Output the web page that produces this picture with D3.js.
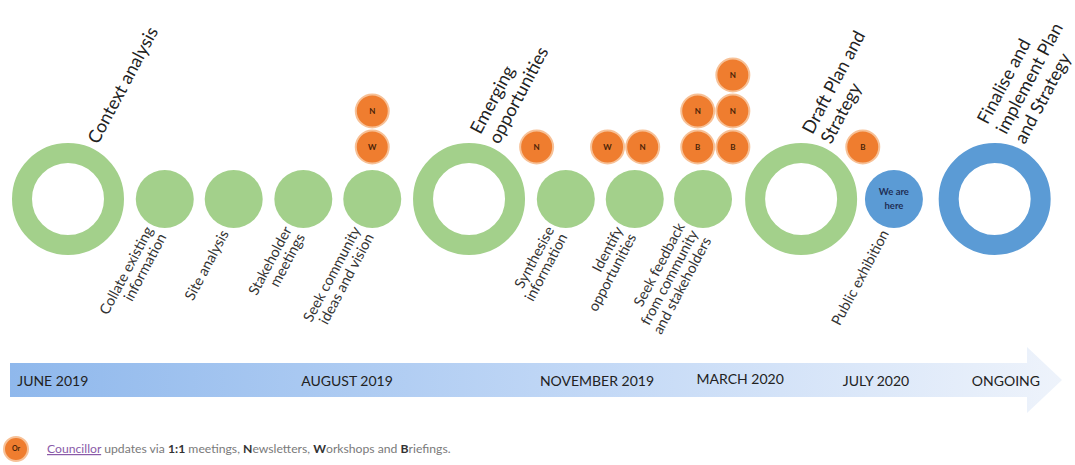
<!DOCTYPE html>
<html>
<head>
<meta charset="utf-8">
<script src="https://cdn.jsdelivr.net/npm/d3@7/dist/d3.min.js"></script>
<style>
  body { margin: 0; background: #fff; }
  svg { display: block; font-family: Lato, "Noto Sans", sans-serif; }
</style>
</head>
<body>
<svg></svg>
<script>
// big stage rings
let stageNames = [['Context analysis'], ['Emerging', 'opportunities'], ['Draft Plan and', 'Strategy'], ['Finalise and', 'implement Plan', 'and Strategy']]
let stageSlots = [0, 6.05, 11.06, 13.98]
let stageKinds = ['done', 'done', 'done', 'future']

// small task circles
let taskNames = [['Collate existing', 'information'], ['Site analysis'], ['Stakeholder', 'meetings'], ['Seek community', 'ideas and vision'],
                 ['Synthesise', 'information'], ['Identify', 'opportunities'], ['Seek feedback', 'from community', 'and stakeholders'], ['Public exhibition']]
let taskSlots = [1.46, 2.5, 3.55, 4.59, 7.51, 8.55, 9.58, 12.46]
let taskKinds = ['done', 'done', 'done', 'done', 'done', 'done', 'done', 'now']

// councillor updates (N, W, B), stacked in rows
let updateLetters = ['N', 'W', 'N', 'W', 'N', 'N', 'B', 'N', 'N', 'B', 'B']
let updateSlots = [4.59, 4.59, 7.07, 8.14, 8.67, 9.5, 9.5, 10.03, 10.03, 10.03, 11.99]
let updateRows = [1, 0, 0, 0, 0, 1, 0, 2, 1, 0, 0]

// dates on the arrow
let dateLabels = ['JUNE 2019', 'AUGUST 2019', 'NOVEMBER 2019', 'MARCH 2020', 'JULY 2020', 'ONGOING']
let dateSlots = [-0.23, 4.21, 7.98, 10.14, 12.19, 14.15]

let width = 1075
let height = 465
let rowY = 199
let angle = -62

let green = '#a3d08b'
let blue = '#5b9bd5'
let orange = '#ef7d2f'

let svg = d3.select('svg').attr('width', width).attr('height', height)

let xScale = d3.scaleLinear().domain([0, 14]).range([68, 996])
let yScale = d3.scaleLinear().domain([0, 2]).range([147, 75])

let colorOf = (k) => k == 'done' ? green : blue

// ---- arrow band
let defs = svg.append('defs')
let grad = defs.append('linearGradient').attr('id', 'band').attr('x1', '0%').attr('x2', '100%')
grad.append('stop').attr('offset', '0%').attr('stop-color', '#8fb8ec')
grad.append('stop').attr('offset', '55%').attr('stop-color', '#c2d8f6')
grad.append('stop').attr('offset', '100%').attr('stop-color', '#eef3fb')

let bandTop = 363, bandBot = 397, headX = 1027, tipX = 1062
svg.append('path')
   .attr('d', 'M10,' + bandTop + 'H' + headX + 'V347L' + tipX + ',380L' + headX + ',413V' + bandBot + 'H10Z')
   .attr('fill', 'url(#band)')

svg.selectAll('.date')
   .data(dateLabels)
   .enter()
   .append('text')
   .attr('class', 'date')
   .attr('x', (d, i) => xScale(dateSlots[i]))
   .attr('y', (d, i) => d == 'MARCH 2020' ? 384 : 386)
   .attr('text-anchor', 'middle')
   .attr('font-size', 14)
   .attr('fill', '#222')
   .text(d => d)

// ---- stage rings
svg.selectAll('.stage')
   .data(stageNames)
   .enter()
   .append('circle')
   .attr('class', 'stage')
   .attr('cx', (d, i) => xScale(stageSlots[i]))
   .attr('cy', rowY)
   .attr('r', 46)
   .attr('fill', 'none')
   .attr('stroke', (d, i) => colorOf(stageKinds[i]))
   .attr('stroke-width', 20)

let stageLbl = svg.selectAll('.stage-label')
   .data(stageNames)
   .enter()
   .append('text')
   .attr('class', 'stage-label')
   .attr('transform', (d, i) => 'translate(' + (xScale(stageSlots[i]) + 30) + ',' + (rowY - 54) + ') rotate(' + angle + ')')
   .attr('font-size', 18)
   .attr('fill', '#222')
stageLbl.selectAll('tspan')
   .data(d => d.map((t, j) => ({ t: t, off: j - (d.length - 1) })))
   .enter()
   .append('tspan')
   .attr('x', 0)
   .attr('y', d => d.off * 21)
   .text(d => d.t)

// ---- task circles
svg.selectAll('.task')
   .data(taskNames)
   .enter()
   .append('circle')
   .attr('class', 'task')
   .attr('cx', (d, i) => xScale(taskSlots[i]))
   .attr('cy', rowY)
   .attr('r', 29)
   .attr('fill', (d, i) => colorOf(taskKinds[i]))

let taskLbl = svg.selectAll('.task-label')
   .data(taskNames)
   .enter()
   .append('text')
   .attr('class', 'task-label')
   .attr('transform', (d, i) => 'translate(' + (xScale(taskSlots[i]) - 9) + ',' + (rowY + 32) + ') rotate(' + angle + ')')
   .attr('text-anchor', 'end')
   .attr('font-size', 14.5)
   .attr('fill', '#333')
taskLbl.selectAll('tspan')
   .data(d => d.map((t, j) => ({ t: t, off: j - (d.length - 1) / 2 })))
   .enter()
   .append('tspan')
   .attr('x', 0)
   .attr('y', d => d.off * 15 + 5)
   .text(d => d.t)

// "We are here" on the current task
let nowIdx = taskKinds.indexOf('now')
svg.append('text')
   .attr('x', xScale(taskSlots[nowIdx]))
   .attr('y', rowY)
   .attr('text-anchor', 'middle')
   .attr('font-size', 9.5)
   .attr('font-weight', 'bold')
   .attr('fill', '#1f2f55')
   .selectAll('tspan')
   .data(['We are', 'here'])
   .enter()
   .append('tspan')
   .attr('x', xScale(taskSlots[nowIdx]))
   .attr('dy', (d, i) => i == 0 ? -4 : 14)
   .text(d => d)

// ---- councillor update bubbles
let upd = svg.selectAll('.update')
   .data(updateLetters)
   .enter()
   .append('g')
   .attr('class', 'update')
   .attr('transform', (d, i) => 'translate(' + xScale(updateSlots[i]) + ',' + yScale(updateRows[i]) + ')')
upd.append('circle')
   .attr('r', 16.5)
   .attr('fill', orange)
   .attr('stroke', '#f7c197')
   .attr('stroke-width', 2)
upd.append('text')
   .attr('text-anchor', 'middle')
   .attr('dy', '0.35em')
   .attr('font-size', 8)
   .attr('font-weight', 'bold')
   .attr('fill', '#4a2308')
   .text(d => d)

// ---- legend
let leg = svg.append('g').attr('transform', 'translate(16,449)')
leg.append('circle').attr('r', 12).attr('fill', orange).attr('stroke', '#f7c197').attr('stroke-width', 2)
leg.append('text').attr('text-anchor', 'middle').attr('dy', '0.35em').attr('font-size', 7)
   .attr('font-weight', 'bold').attr('fill', '#4a2308').text('Or')

let legParts = [['Councillor', 'link'], [' updates via ', ''], ['1:1', 'b'], [' meetings, ', ''], ['N', 'b'], ['ewsletters, ', ''],
                ['W', 'b'], ['orkshops and ', ''], ['B', 'b'], ['riefings.', '']]
leg.append('text')
   .attr('x', 31)
   .attr('y', 4)
   .attr('font-size', 12.2)
   .attr('fill', '#7a7a7a')
   .selectAll('tspan')
   .data(legParts)
   .enter()
   .append('tspan')
   .attr('font-weight', d => d[1] == 'b' ? 'bold' : null)
   .attr('fill', d => d[1] == 'b' ? '#333' : d[1] == 'link' ? '#8a5aa8' : null)
   .attr('text-decoration', d => d[1] == 'link' ? 'underline' : null)
   .style('white-space', 'pre')
   .text(d => d[0])
</script>
</body>
</html>
